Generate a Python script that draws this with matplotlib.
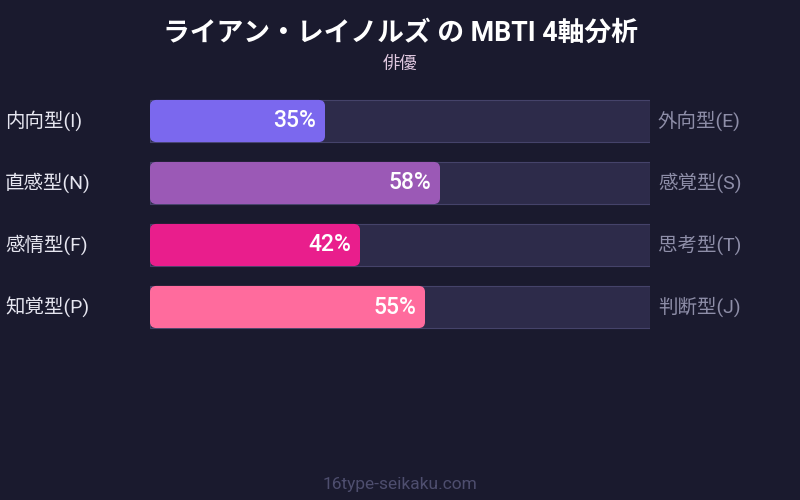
import matplotlib
matplotlib.use("Agg")
import matplotlib.pyplot as plt
from matplotlib.patches import FancyBboxPatch, Rectangle

plt.rcParams['font.family'] = ['Roboto', 'Noto Sans CJK JP', 'DejaVu Sans']

# data
title = "ライアン・レイノルズ の MBTI 4軸分析"
subtitle = "俳優"
left_labels = ["内向型(I)", "直感型(N)", "感情型(F)", "知覚型(P)"]
right_labels = ["外向型(E)", "感覚型(S)", "思考型(T)", "判断型(J)"]
values = [35, 58, 42, 55]
colors = ["#7b68ee", "#9b59b6", "#e91e8c", "#ff6b9d"]

bg = "#1a1a2e"
track = "#2d2b4a"

fig = plt.figure(figsize=(8, 5), dpi=100, facecolor=bg)

# bar area: 150..650 px wide, rows centred at 121, 183, 245, 307 px
ax = fig.add_axes([150 / 800, 162 / 500, 500 / 800, 248 / 500])
ax.set_facecolor(bg)
ax.set_xlim(0, 100)
ax.set_ylim(3.5, -0.5)
ax.axis("off")

h = 0.68
for i, v in enumerate(values):
    ax.add_patch(Rectangle((0, i - h / 2), 100, h, facecolor=track,
                           edgecolor="#45436a", linewidth=0.8, zorder=1))
    ax.add_patch(FancyBboxPatch((0, i - h / 2), v, h,
                                boxstyle="round,pad=0,rounding_size=1.3",
                                mutation_aspect=0.075,
                                facecolor=colors[i], edgecolor="none", zorder=2))
    ax.text(v - 1.8, i, f"{v}%", ha="right", va="center", color="white",
            fontsize=16.5, fontweight="medium", zorder=3)
    ax.text(-29, i, left_labels[i], ha="left", va="center", color="#e6e6f0",
            fontsize=14, clip_on=False)
    ax.text(101.6, i, right_labels[i], ha="left", va="center", color="#8e8ea8",
            fontsize=14, clip_on=False)

fig.text(0.5, 1 - 33 / 500, title, ha="center", va="center", color="white",
         fontsize=19.3, fontweight="bold")
fig.text(0.5, 1 - 64 / 500, subtitle, ha="center", va="center", color="#e0c8e0",
         fontsize=12.5)
fig.text(0.5, 1 - 484 / 500, "16type-seikaku.com", ha="center", va="center",
         color="#4e4e6e", fontsize=12.5)

fig.savefig("out.png", dpi=100, facecolor=bg)
